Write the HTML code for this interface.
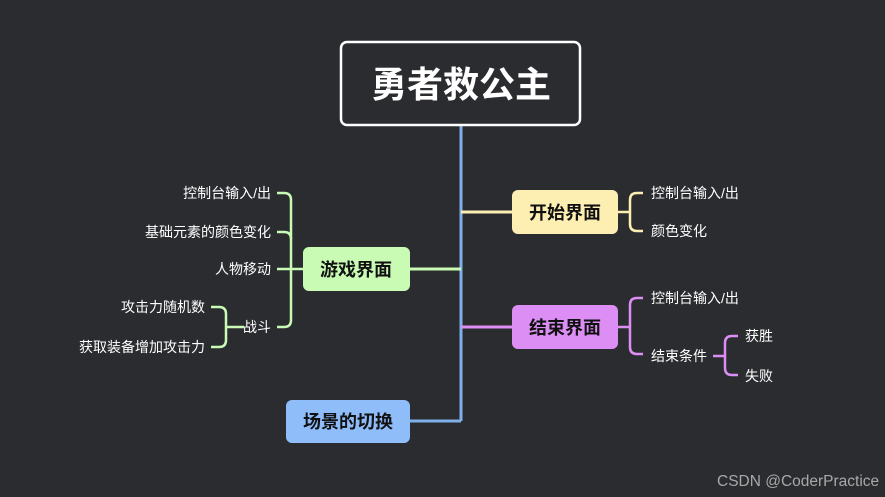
<!DOCTYPE html>
<html><head><meta charset="utf-8"><style>
html,body{margin:0;padding:0;background:#2b2c30;}
svg{display:block;}
text{font-family:"Liberation Sans","Noto Sans CJK SC",sans-serif;}
</style></head><body>
<svg width="885" height="497" viewBox="0 0 885 497" xmlns="http://www.w3.org/2000/svg">
<rect width="885" height="497" fill="#2b2c30"/>
<g stroke="#7fb0ea" stroke-width="3" fill="none">
<line x1="461" y1="126" x2="461" y2="421"/>
<line x1="410" y1="421" x2="461" y2="421"/>
</g>
<line x1="461" y1="212" x2="512" y2="212" stroke="#fdefb2" stroke-width="3"/>
<line x1="461" y1="327" x2="512" y2="327" stroke="#dd8ef5" stroke-width="3"/>
<line x1="410" y1="269" x2="461" y2="269" stroke="#c9fbb5" stroke-width="3"/>
<rect x="341" y="42" width="239" height="83" rx="6" fill="#2b2c30" stroke="#fff" stroke-width="2.5"/>
<text x="461" y="97" fill="#fff" font-size="36" font-weight="bold" text-anchor="middle">勇者救公主</text>
<rect x="512" y="190" width="106" height="44" rx="6" fill="#fdefb2"/>
<text x="565" y="219" font-size="18" font-weight="bold" text-anchor="middle" fill="#111">开始界面</text>
<rect x="512" y="305" width="106" height="44" rx="6" fill="#dd8ef5"/>
<text x="565" y="334" font-size="18" font-weight="bold" text-anchor="middle" fill="#111">结束界面</text>
<rect x="303" y="247" width="107" height="44" rx="6" fill="#c9fbb5"/>
<text x="356" y="276" font-size="18" font-weight="bold" text-anchor="middle" fill="#111">游戏界面</text>
<rect x="286" y="400" width="124" height="43" rx="6" fill="#8fbdfa"/>
<text x="348" y="428" font-size="18" font-weight="bold" text-anchor="middle" fill="#111">场景的切换</text>
<g stroke="#c9fbb5" stroke-width="2.5" fill="none">
<line x1="277" y1="269" x2="303" y2="269"/>
<path d="M277 193 H284 Q291 193 291 200 V320 Q291 327 284 327 H277"/>
<path d="M277 232 H284 Q291 232 291 239"/>
<line x1="226" y1="327" x2="244" y2="327"/>
<path d="M211 307 H219 Q226 307 226 314 V340 Q226 347 219 347 H211"/>
</g>
<g fill="#fff" font-size="14" text-anchor="end">
<text x="271" y="198">控制台输入/出</text>
<text x="271" y="237">基础元素的颜色变化</text>
<text x="271" y="274">人物移动</text>
<text x="271" y="332">战斗</text>
<text x="205" y="312">攻击力随机数</text>
<text x="205" y="352">获取装备增加攻击力</text>
</g>
<g stroke="#fdefb2" stroke-width="2.5" fill="none">
<path d="M618 212 H630"/>
<path d="M643 193 H637 Q630 193 630 200 V224 Q630 231 637 231 H643"/>
</g>
<g stroke="#dd8ef5" stroke-width="2.5" fill="none">
<path d="M618 327 H630"/>
<path d="M643 298 H637 Q630 298 630 305 V347 Q630 354 637 354 H643"/>
<path d="M713 356 H725"/>
<path d="M738 336 H732 Q725 336 725 343 V368 Q725 375 732 375 H738"/>
</g>
<g fill="#fff" font-size="14">
<text x="651" y="198">控制台输入/出</text>
<text x="651" y="236">颜色变化</text>
<text x="651" y="303">控制台输入/出</text>
<text x="651" y="361">结束条件</text>
<text x="745" y="341">获胜</text>
<text x="745" y="381">失败</text>
</g>
<text x="717" y="486" fill="#a8a8a8" font-size="15.5">CSDN @CoderPractice</text>
</svg>
</body></html>
